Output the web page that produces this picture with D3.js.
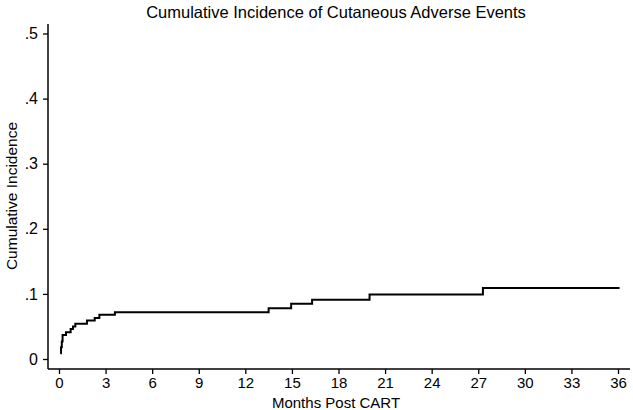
<!DOCTYPE html>
<html>
<head>
<meta charset="utf-8">
<script src="https://cdn.jsdelivr.net/npm/d3@7"></script>
<style>
  body { margin: 0; background: #fff; }
  svg { display: block; font-family: "Liberation Sans", Arial, sans-serif; }
</style>
</head>
<body>
<div id="chart"></div>
<script>
// step times (months) and cumulative incidence after each step
var times = [0.08, 0.13, 0.18, 0.23, 0.45, 0.75, 0.9, 1.05, 1.8, 2.3, 2.6, 3.6, 13.5, 14.95, 16.3, 20.0, 27.3, 36.1];
var incidence = [0.009, 0.018, 0.027, 0.037, 0.041, 0.046, 0.050, 0.054, 0.059, 0.063, 0.068, 0.072, 0.078, 0.085, 0.091, 0.099, 0.109, 0.109];

var xTicks = [0, 3, 6, 9, 12, 15, 18, 21, 24, 27, 30, 33, 36];
var yTicks = [0, 0.1, 0.2, 0.3, 0.4, 0.5];

var w = 633, h = 410;

// plot frame
var axisLeftX = 48, axisBottomY = 369, axisTopY = 24, axisRightX = 630;

var svg = d3.select("#chart")
    .append("svg")
    .attr("width", w)
    .attr("height", h);

var x = d3.scaleLinear().domain([0, 36]).range([59, 618]);
var y = d3.scaleLinear().domain([0, 0.5]).range([359, 33.5]);

// title
svg.append("text")
    .attr("x", 336)
    .attr("y", 18)
    .attr("text-anchor", "middle")
    .attr("font-size", 16.5)
    .text("Cumulative Incidence of Cutaneous Adverse Events");

// y axis
var yAxis = svg.append("g")
    .attr("transform", "translate(" + axisLeftX + ",0)")
    .call(d3.axisLeft(y)
        .tickValues(yTicks)
        .tickSize(5)
        .tickPadding(5)
        .tickFormat(function (d) { return d === 0 ? "0" : d3.format(".1f")(d).replace(/^0/, ""); }));
yAxis.select(".domain").remove();
yAxis.selectAll("text").attr("font-size", 16).attr("font-family", "Liberation Sans, Arial, sans-serif").attr("fill", "#000");
yAxis.selectAll("line").attr("stroke", "#000").attr("stroke-width", 1.3);

// x axis
var xAxis = svg.append("g")
    .attr("transform", "translate(0," + axisBottomY + ")")
    .call(d3.axisBottom(x)
        .tickValues(xTicks)
        .tickSize(5)
        .tickPadding(3));
xAxis.select(".domain").remove();
xAxis.selectAll("text").attr("font-size", 15).attr("font-family", "Liberation Sans, Arial, sans-serif").attr("fill", "#000");
xAxis.selectAll("line").attr("stroke", "#000").attr("stroke-width", 1.3);

// axis lines
svg.append("line")
    .attr("x1", axisLeftX).attr("x2", axisLeftX)
    .attr("y1", axisTopY).attr("y2", axisBottomY)
    .attr("stroke", "#000").attr("stroke-width", 1.5);
svg.append("line")
    .attr("x1", axisLeftX).attr("x2", axisRightX)
    .attr("y1", axisBottomY).attr("y2", axisBottomY)
    .attr("stroke", "#000").attr("stroke-width", 1.5);

// axis titles
svg.append("text")
    .attr("x", 336)
    .attr("y", 408)
    .attr("text-anchor", "middle")
    .attr("font-size", 15)
    .text("Months Post CART");

svg.append("text")
    .attr("transform", "translate(17,196) rotate(-90)")
    .attr("text-anchor", "middle")
    .attr("font-size", 15.5)
    .text("Cumulative Incidence");

// step curve
var pts = times.map(function (t, i) { return [t, incidence[i]]; });
var line = d3.line()
    .x(function (d) { return x(d[0]); })
    .y(function (d) { return y(d[1]); })
    .curve(d3.curveStepAfter);

svg.append("path")
    .datum(pts)
    .attr("fill", "none")
    .attr("stroke", "#000")
    .attr("stroke-width", 2)
    .attr("d", line);
</script>
</body>
</html>
